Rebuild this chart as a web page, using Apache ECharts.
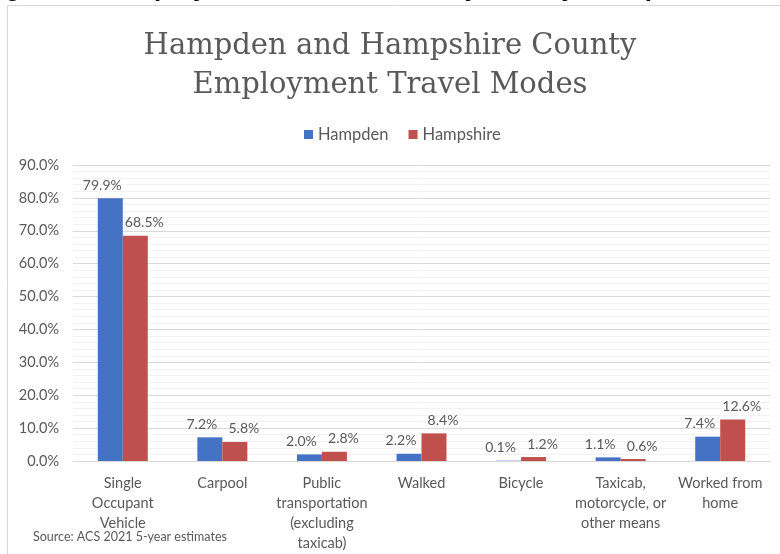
<!DOCTYPE html>
<html>
<head>
<meta charset="utf-8">
<script src="https://cdn.jsdelivr.net/npm/echarts@6/dist/echarts.min.js"></script>
<style>
  html, body { margin: 0; padding: 0; background: #ffffff; }
  #chart { width: 780px; height: 554px; }
</style>
</head>
<body>
<div id="chart"></div>
<script>
// Commuting mode shares, ACS 2021 5-year estimates
const categories = [
  'Single\nOccupant\nVehicle',
  'Carpool',
  'Public\ntransportation\n(excluding\ntaxicab)',
  'Walked',
  'Bicycle',
  'Taxicab,\nmotorcycle, or\nother means',
  'Worked from\nhome'
];
const hampden = [79.9, 7.2, 2.0, 2.2, 0.1, 1.1, 7.4];
const hampshire = [68.5, 5.8, 2.8, 8.4, 1.2, 0.6, 12.6];
const yTicks = [0, 10, 20, 30, 40, 50, 60, 70, 80, 90];

const textColor = '#595959';
const bodyFont = 'Lato';

const chart = echarts.init(document.getElementById('chart'), null, { renderer: 'canvas' });

function valueLabel(dx) {
  return {
    show: true,
    position: 'top',
    distance: 6,
    offset: [dx, 0],
    color: textColor,
    fontFamily: bodyFont,
    fontSize: 14,
    formatter: p => p.value.toFixed(1) + '%'
  };
}

chart.setOption({
  backgroundColor: '#ffffff',
  animation: false,
  title: {
    text: 'Hampden and Hampshire County\nEmployment Travel Modes',
    left: 'center',
    top: 22,
    textStyle: {
      color: textColor,
      fontFamily: 'DejaVu Serif',
      fontWeight: 'normal',
      fontSize: 29,
      lineHeight: 39
    }
  },
  legend: {
    top: 121,
    left: 299,
    itemWidth: 9,
    itemHeight: 9,
    itemGap: 20,
    icon: 'rect',
    textStyle: { color: textColor, fontFamily: bodyFont, fontSize: 16.5 },
    data: ['Hampden', 'Hampshire']
  },
  grid: { left: 73, right: 10, top: 165, bottom: 93, containLabel: false },
  xAxis: {
    type: 'category',
    data: categories,
    axisTick: { show: false },
    axisLine: { lineStyle: { color: '#d9d9d9' } },
    axisLabel: {
      color: textColor,
      fontFamily: bodyFont,
      fontSize: 14.5,
      lineHeight: 20,
      margin: 12,
      interval: 0
    }
  },
  yAxis: {
    type: 'value',
    min: yTicks[0],
    max: yTicks[yTicks.length - 1],
    interval: 10,
    axisLine: { show: false },
    axisTick: { show: false },
    axisLabel: {
      color: textColor,
      fontFamily: bodyFont,
      fontSize: 14.5,
      margin: 14,
      formatter: v => v.toFixed(1) + '%'
    },
    splitLine: { lineStyle: { color: '#d9d9d9', width: 1 } },
    minorTick: { show: false, splitNumber: 5 },
    minorSplitLine: { show: true, lineStyle: { color: '#f2f2f2', width: 1 } }
  },
  series: [
    {
      name: 'Hampden',
      type: 'bar',
      data: hampden,
      barWidth: 25,
      barGap: '0%',
      itemStyle: { color: '#4472c4' },
      label: valueLabel(-8)
    },
    {
      name: 'Hampshire',
      type: 'bar',
      data: hampshire,
      barWidth: 25,
      barGap: '0%',
      itemStyle: { color: '#c0504d' },
      label: valueLabel(9)
    }
  ],
  graphic: [
    {
      type: 'rect',
      shape: { x: 7.5, y: 5.5, width: 800, height: 600 },
      style: { fill: 'none', stroke: '#d9d9d9', lineWidth: 1 },
      z: -1
    },
    {
      type: 'text',
      x: 33,
      y: 537,
      style: {
        text: 'Source: ACS 2021 5-year estimates',
        fill: textColor,
        font: '12.5px Lato',
        textVerticalAlign: 'middle'
      }
    },
    {
      type: 'text',
      x: -18,
      y: 2,
      style: {
        text: 'Figure 10: Employment Travel Modes by County, Hampden and Hampshire County',
        fill: '#000000',
        font: 'bold 26px "Liberation Sans"',
        textVerticalAlign: 'bottom'
      }
    }
  ]
});
</script>
</body>
</html>
